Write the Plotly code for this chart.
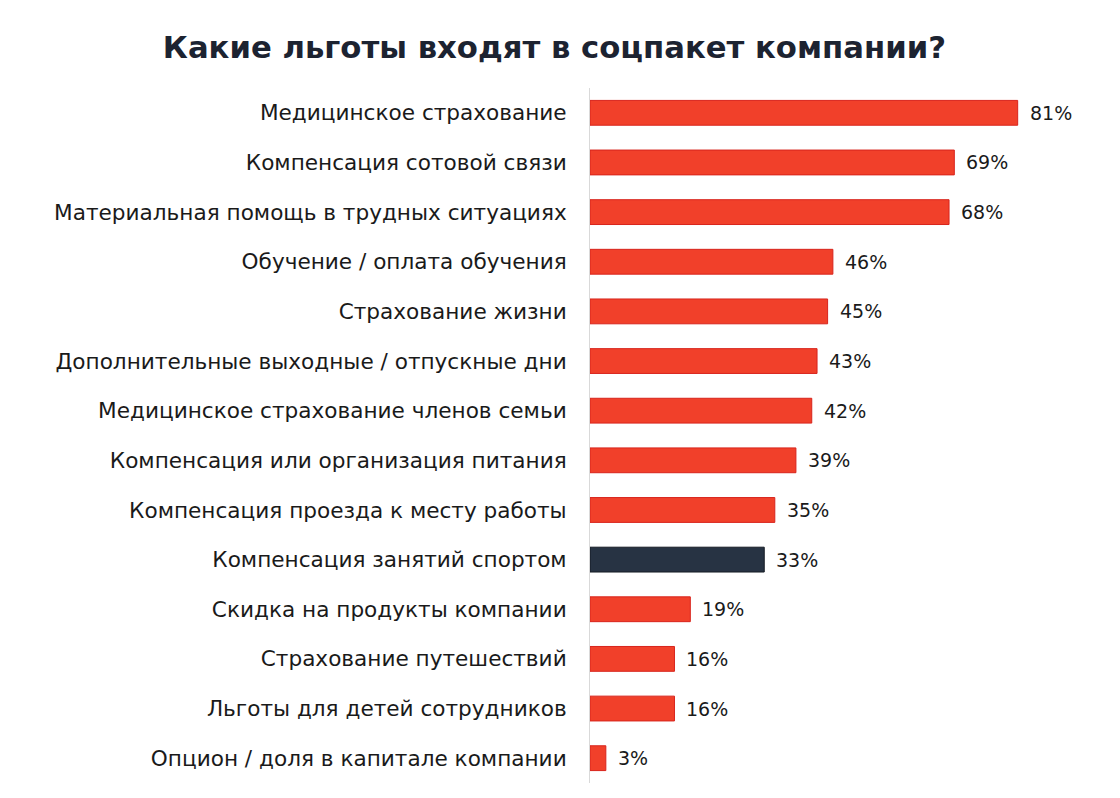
import plotly.graph_objects as go

categories = [
    "Медицинское страхование",
    "Компенсация сотовой связи",
    "Материальная помощь в трудных ситуациях",
    "Обучение / оплата обучения",
    "Страхование жизни",
    "Дополнительные выходные / отпускные дни",
    "Медицинское страхование членов семьи",
    "Компенсация или организация питания",
    "Компенсация проезда к месту работы",
    "Компенсация занятий спортом",
    "Скидка на продукты компании",
    "Страхование путешествий",
    "Льготы для детей сотрудников",
    "Опцион / доля в капитале компании",
]
values = [81, 69, 68, 46, 45, 43, 42, 39, 35, 33, 19, 16, 16, 3]
highlight = "Компенсация занятий спортом"

RED = "#f1402a"
RED_LINE = "#d8241c"
DARK = "#273343"
DARK_LINE = "#151b24"

colors = [DARK if c == highlight else RED for c in categories]
line_colors = [DARK_LINE if c == highlight else RED_LINE for c in categories]

fig = go.Figure(go.Bar(
    x=values,
    y=categories,
    orientation="h",
    width=0.5,
    marker=dict(color=colors, line=dict(color=line_colors, width=1)),
    hoverinfo="skip",
))

for c, v in zip(categories, values):
    fig.add_annotation(
        x=v, y=c, text=f"{v}%", showarrow=False,
        xanchor="left", xshift=10,
        font=dict(family="DejaVu Sans", size=19, color="#1a1a1a"),
    )

fig.update_layout(
    width=1120, height=798,
    margin=dict(l=590, r=2, t=88, b=15),
    paper_bgcolor="white",
    plot_bgcolor="white",
    showlegend=False,
    title=dict(
        text="<b>Какие льготы входят в соцпакет компании?</b>",
        x=0.495, xanchor="center", y=0.941, yanchor="middle",
        font=dict(family="DejaVu Sans", size=30.7, color="#1c2331"),
    ),
    xaxis=dict(range=[0, 100], visible=False, fixedrange=True),
    yaxis=dict(
        autorange=False, range=[13.5, -0.5],
        categoryorder="array", categoryarray=categories,
        showline=True, linecolor="#d9d9d9", linewidth=1,
        showgrid=False, ticks="", ticklabelstandoff=18,
        tickfont=dict(family="DejaVu Sans", size=21.6, color="#1a1a1a"),
    ),
)

fig.write_html("out.html")
